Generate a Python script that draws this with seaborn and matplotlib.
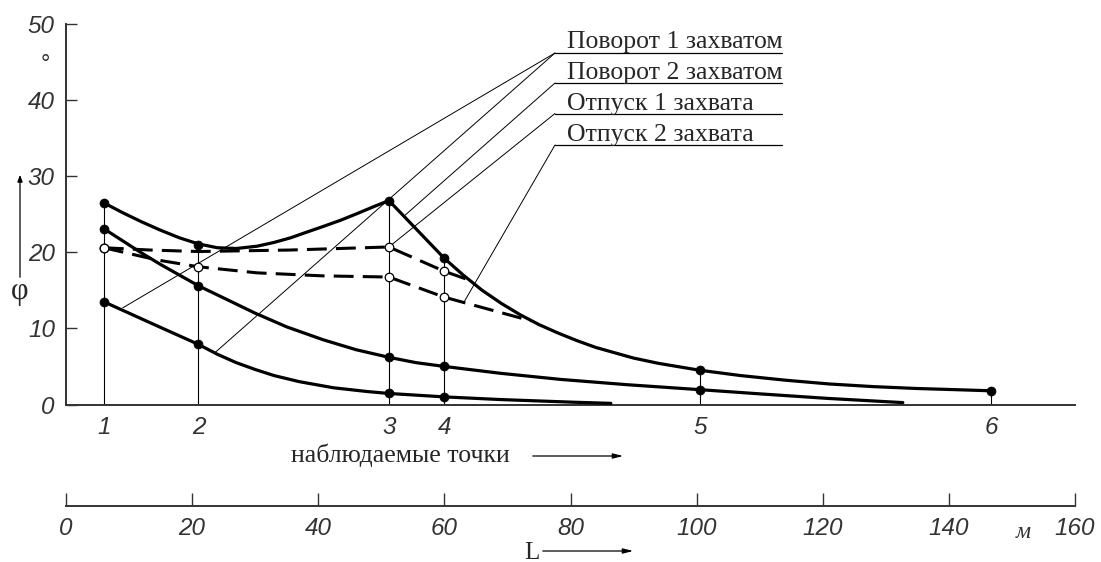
import matplotlib
matplotlib.use('Agg')
import matplotlib.pyplot as plt
import seaborn as sns
from matplotlib.lines import Line2D
from matplotlib.patches import FancyArrowPatch

# ---------------- data ----------------
obs_L = [6.0, 21.0, 51.2, 60.0, 100.5, 146.7]          # observed points, m
obs_labels = ['1', '2', '3', '4', '5', '6']
y_ticks = [0, 10, 20, 30, 40, 50]
L_ticks = [0, 20, 40, 60, 80, 100, 120, 140, 160]

# solid curves (φ, degrees)
A_L = [6.0, 9.0, 12.0, 15.0, 18.0, 21.0, 24.0, 27.0, 30.3, 33.0, 35.6, 38.0, 40.8,
       43.5, 46.2, 48.8, 51.2, 60.0, 63.0, 66.0, 69.0, 72.0, 75.0, 78.0, 81.0, 84.0,
       87.0, 90.0, 94.0, 100.5, 107.0, 114.0, 121.0, 128.0, 135.0, 141.0, 146.7]
A_phi = [26.5, 25.2, 24.0, 22.9, 21.9, 21.1, 20.6, 20.5, 20.8, 21.3, 21.9, 22.6, 23.4,
         24.2, 25.1, 26.0, 26.8, 19.2, 17.0, 15.0, 13.3, 11.8, 10.5, 9.4, 8.4, 7.5,
         6.8, 6.1, 5.4, 4.5, 3.8, 3.2, 2.7, 2.35, 2.1, 1.95, 1.8]
B_L = [6.0, 9.0, 12.0, 15.0, 18.0, 21.0, 25.0, 30.0, 35.0, 40.8, 46.0, 51.2, 55.5,
       60.0, 68.9, 78.4, 89.0, 100.5, 110.0, 120.8, 132.7]
B_phi = [23.1, 21.5, 19.9, 18.4, 17.0, 15.6, 14.0, 12.0, 10.2, 8.5, 7.2, 6.2, 5.5,
         5.0, 4.1, 3.3, 2.6, 1.95, 1.4, 0.8, 0.25]
C_L = [6.0, 10.0, 14.0, 17.5, 21.0, 24.0, 27.0, 30.0, 33.0, 37.0, 42.4, 47.8, 51.2,
       60.0, 68.9, 80.5, 86.4]
C_phi = [13.5, 12.0, 10.5, 9.2, 7.9, 6.6, 5.5, 4.6, 3.8, 3.0, 2.2, 1.7, 1.45,
         1.0, 0.65, 0.3, 0.15]
# dashed curves
D_L = [6.0, 13.3, 21.0, 35.6, 51.2, 60.0, 64.1]
D_phi = [20.6, 20.3, 20.1, 20.3, 20.7, 17.5, 16.3]
E_L = [6.0, 14.4, 21.0, 30.3, 40.8, 51.2, 60.0, 66.2, 73.7]
E_phi = [20.6, 19.0, 18.1, 17.3, 16.9, 16.75, 14.1, 12.7, 11.0]

# measured points
A_obs = [26.5, 21.0, 26.8, 19.2, 4.5, 1.8]
B_obs = [23.1, 15.6, 6.2, 5.0, 1.95]
C_obs = [13.5, 7.9, 1.45, 1.0]
D_obs_L = [6.0, 51.2, 60.0]
D_obs = [20.6, 20.7, 17.5]
E_obs = [20.6, 18.1, 16.75, 14.1]

legend_labels = ['Поворот 1 захватом', 'Поворот 2 захватом',
                 'Отпуск 1 захвата', 'Отпуск 2 захвата']
# leader targets (L, φ) on curves for each label
leader_targets = [[(9.0, 12.7), (23.6, 6.8)], [(53.8, 24.9)], [(51.2, 20.7)], [(63.0, 13.3)]]

# ---------------- figure ----------------
sns.set_style('white')
plt.rcParams['font.family'] = ['Liberation Sans', 'DejaVu Sans']

W, H = 1101, 562
fig = plt.figure(figsize=(W / 100, H / 100), dpi=100)


def fx(px):
    return px / W


def fy(py):
    return 1 - py / H


X0, X1 = 66, 1075
Y0, Y1 = 404.5, 24
ax = fig.add_axes([fx(X0), fy(Y0), fx(X1) - fx(X0), fy(Y1) - fy(Y0)])
ax.set_facecolor('none')
ax.set_xlim(0, 160)
ax.set_ylim(0, 50)

# vertical lines at observation points
ax.vlines(obs_L, 0, A_obs, color='black', lw=0.8, zorder=2)

solid_kw = dict(color='black', lw=2.3, sort=False, estimator=None, ax=ax, zorder=3)
sns.lineplot(x=A_L, y=A_phi, **solid_kw)
sns.lineplot(x=B_L, y=B_phi, **solid_kw)
sns.lineplot(x=C_L, y=C_phi, **solid_kw)
dash_kw = dict(color='black', lw=2.2, sort=False, estimator=None, ax=ax, zorder=3,
               linestyle=(0, (6.5, 3)))
sns.lineplot(x=D_L, y=D_phi, **dash_kw)
sns.lineplot(x=E_L, y=E_phi, **dash_kw)

fill_kw = dict(color='black', edgecolor='black', s=42, linewidth=0.5, ax=ax, zorder=5, clip_on=False)
sns.scatterplot(x=obs_L, y=A_obs, **fill_kw)
sns.scatterplot(x=obs_L[:5], y=B_obs, **fill_kw)
sns.scatterplot(x=obs_L[:4], y=C_obs, **fill_kw)
open_kw = dict(color='white', edgecolor='black', s=38, linewidth=0.9, ax=ax, zorder=6, clip_on=False)
sns.scatterplot(x=D_obs_L, y=D_obs, **open_kw)
sns.scatterplot(x=obs_L[:4], y=E_obs, **open_kw)

# axes styling
for s in ['top', 'right']:
    ax.spines[s].set_visible(False)
for s in ['left', 'bottom']:
    ax.spines[s].set_linewidth(1.4)
    ax.spines[s].set_color('#333333')

ax.set_yticks(y_ticks)
ax.set_yticklabels([str(v) for v in y_ticks])
ax.tick_params(axis='y', direction='in', length=8, width=1.0, pad=8,
               labelsize=17.5, colors='#333333', left=True)
ax.set_xticks(obs_L)
ax.set_xticklabels(obs_labels)
ax.tick_params(axis='x', length=0, pad=8, labelsize=17.5, colors='#333333')
for t in ax.get_yticklabels() + ax.get_xticklabels():
    t.set_fontstyle('italic')
ax.set_xlabel('')
ax.set_ylabel('')

# second axis: distance L
ax2 = fig.add_axes([fx(X0), fy(506), fx(X1) - fx(X0), 0.01])
ax2.set_facecolor('none')
ax2.set_xlim(0, 160)
ax2.set_ylim(0, 1)
for s in ['top', 'right', 'left']:
    ax2.spines[s].set_visible(False)
ax2.spines['bottom'].set_linewidth(1.4)
ax2.spines['bottom'].set_color('#333333')
ax2.set_yticks([])
ax2.set_xticks(L_ticks)
ax2.set_xticklabels([str(v) for v in L_ticks])
ax2.tick_params(axis='x', direction='in', length=9.5, width=1.0, pad=8,
                labelsize=17.5, colors='#333333', bottom=True)
for t in ax2.get_xticklabels():
    t.set_fontstyle('italic')

serif = ['Liberation Serif', 'DejaVu Serif']

# legend labels with underlines and leader lines
label_base = [48, 79, 110, 141]
label_line = [53, 83, 113.5, 145]
for lab, yb, yl, targets in zip(legend_labels, label_base, label_line, leader_targets):
    fig.text(fx(567), fy(yb), lab, family=serif, fontsize=18.5, ha='left', va='baseline')
    fig.add_artist(Line2D([fx(555), fx(782)], [fy(yl), fy(yl)], transform=fig.transFigure,
                          color='black', lw=0.9))
    for (tl, tp) in targets:
        ax.annotate('', xy=(tl, tp), xycoords='data',
                    xytext=(fx(555), fy(yl)), textcoords='figure fraction',
                    arrowprops=dict(arrowstyle='-', lw=0.7, color='black',
                                    shrinkA=0, shrinkB=0))

# axis captions
fig.text(fx(45), fy(65), '°', fontsize=17, ha='center', va='center', color='#333333')
fig.text(fx(20), fy(291), 'φ', family=serif, fontsize=22, ha='center', va='center')
fig.add_artist(FancyArrowPatch(
    (fx(20), fy(280)), (fx(20), fy(172)), transform=fig.transFigure,
    arrowstyle='-|>,head_length=4,head_width=1.5', lw=0.9, color='black'))

fig.text(fx(400), fy(462), 'наблюдаемые точки', family=serif, fontsize=18.5,
         ha='center', va='baseline')
fig.add_artist(FancyArrowPatch(
    (fx(530), fy(456)), (fx(626), fy(456)), transform=fig.transFigure,
    arrowstyle='-|>,head_length=6,head_width=1.5', lw=0.9, color='black'))

fig.text(fx(532), fy(559), 'L', family=serif, fontsize=18, ha='center', va='baseline')
fig.add_artist(FancyArrowPatch(
    (fx(540), fy(551)), (fx(636), fy(551)), transform=fig.transFigure,
    arrowstyle='-|>,head_length=6,head_width=1.5', lw=0.9, color='black'))

fig.text(fx(1023), fy(532), 'м', family=serif, fontstyle='italic', fontsize=17,
         ha='center', va='center', color='#333333')

fig.savefig('out.png', dpi=100)
